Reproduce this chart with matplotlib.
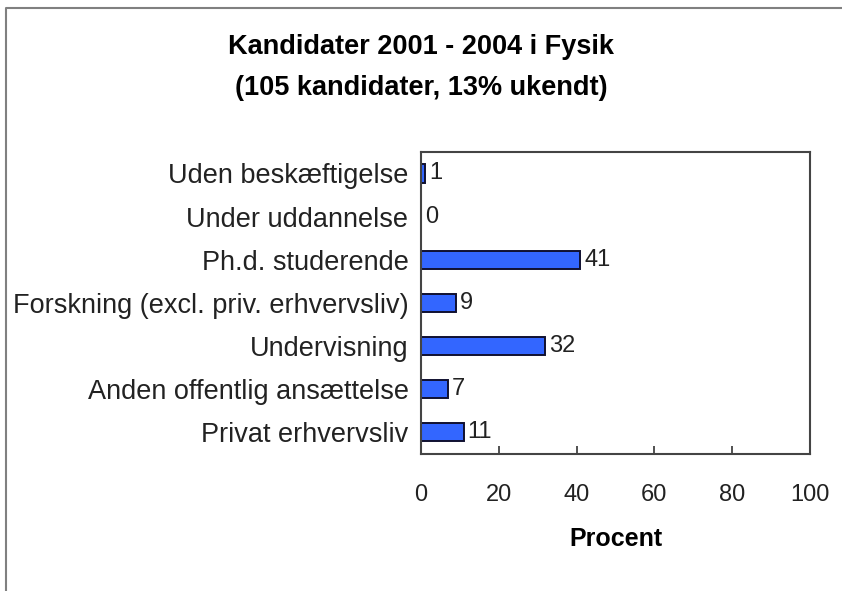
import matplotlib.pyplot as plt
from matplotlib.lines import Line2D

# data, top to bottom as shown
categories = ['Uden beskæftigelse', 'Under uddannelse', 'Ph.d. studerende',
              'Forskning (excl. priv. erhvervsliv)', 'Undervisning',
              'Anden offentlig ansættelse', 'Privat erhvervsliv']
values = [1, 0, 41, 9, 32, 7, 11]
xticks = [0, 20, 40, 60, 80, 100]

plt.rcParams['font.family'] = ['Liberation Sans', 'DejaVu Sans']

fig = plt.figure(figsize=(8.42, 5.91), dpi=100)
ax = fig.add_axes([0.5, 0.232, 0.462, 0.511])

pos = list(range(len(categories)))
ax.barh(pos, values, height=0.42, color='#3366ff', edgecolor='#101030', linewidth=1.4)
for p, v in zip(pos, values):
    ax.text(v + 1.0, p, str(v), va='center', ha='left', fontsize=17, color='#222222')

ax.set_ylim(len(categories) - 0.5, -0.5)
ax.set_xlim(0, 100)
ax.set_yticks(pos)
ax.set_yticklabels(categories, fontsize=19.5, color='#222222')
ax.set_xticks(xticks)
ax.set_xticklabels([str(t) for t in xticks], fontsize=17, color='#222222')
ax.tick_params(axis='y', length=0, pad=9)
ax.tick_params(axis='x', direction='in', length=6, width=1.2, pad=22, color='#333333')
for s in ax.spines.values():
    s.set_color('#444444')
    s.set_linewidth(1.5)
ax.set_xlabel('Procent', fontsize=18, fontweight='bold', labelpad=15)

fig.text(0.5, 0.92, 'Kandidater 2001 - 2004 i Fysik', ha='center', va='center',
         fontsize=19.5, fontweight='bold')
fig.text(0.5, 0.851, '(105 kandidater, 13% ukendt)', ha='center', va='center',
         fontsize=19.5, fontweight='bold')

# clipped frame of the original image (top and left only)
x0 = 6 / 842
y0 = 1 - 8 / 591
fig.add_artist(Line2D([x0, x0, 1], [0, y0, y0], transform=fig.transFigure,
                      color='#808080', linewidth=1.5))

plt.savefig('out.png')
